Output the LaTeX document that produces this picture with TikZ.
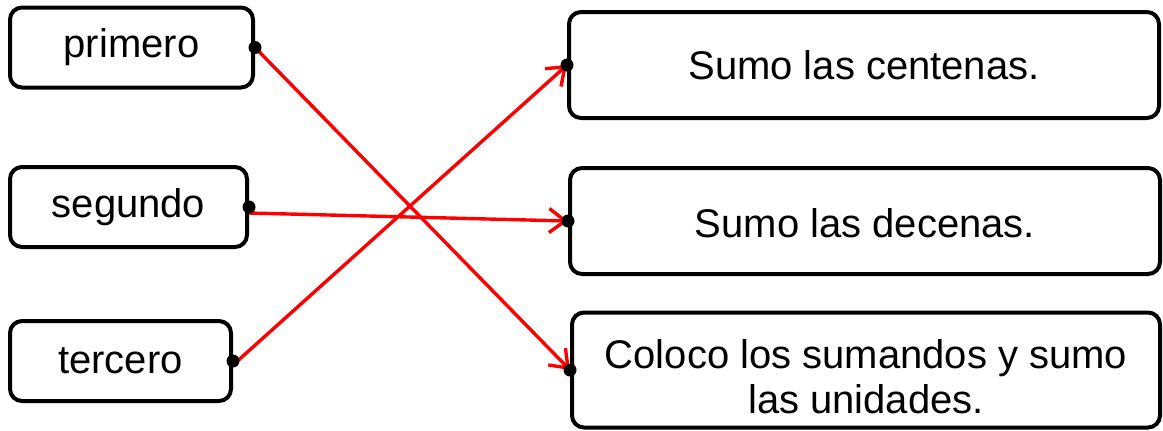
\documentclass[tikz,border=0pt]{standalone}
\usepackage{fontspec}
\setmainfont{Liberation Sans}
\usetikzlibrary{arrows.meta}

\newcommand{\lowered}[2]{\raisebox{-#1}[\height][\depth]{#2}}

\begin{document}
\begin{tikzpicture}[x=0.5pt,y=-0.5pt,>={Straight Barb[length=8pt,width=12pt]},
    box/.style={draw,line width=2pt,rounded corners=6pt,inner sep=0pt,align=center,font=\fontsize{20}{22.5}\selectfont},
    word node/.style={box,minimum height=40pt},
    step node/.style={box,minimum width=295pt,minimum height=53pt},
    dot/.style={circle,fill,inner sep=0pt,minimum size=6.5pt},
    link/.style={red,line width=1.7pt,->}]
        \useasboundingbox (0,0) rectangle (1163,430);

        % left column
        \node[word node,minimum width=121.5pt] (primero) at (131.5,47.5) {primero};
        \node[word node,minimum width=118.5pt] (segundo) at (128.5,207) {segundo};
        \node[word node,minimum width=110.5pt] (tercero) at (120.5,361) {tercero};

        % right column
        \node[step node] (centenas) at (864,65) {Sumo las centenas.};
        \node[step node] (decenas) at (865,221) {\lowered{1.2pt}{Sumo las decenas.}};
        \node[step node,minimum width=294pt,minimum height=57.5pt] (unidades) at (866,370)
            {\lowered{6pt}{\begin{tabular}{@{}c@{}}Coloco los sumandos y sumo\\las unidades.\end{tabular}}};

        \path[link]
            (primero.east) edge (unidades.west)
            ([yshift=-3pt]segundo.east) edge (decenas.west)
            ([yshift=-2pt]tercero.east) edge (centenas.west)
            ;

        \foreach \n in {primero,segundo,tercero}
            \node[dot] at (\n.east) {};
        \foreach \n in {centenas,decenas,unidades}
            \node[dot] at (\n.west) {};
\end{tikzpicture}
\end{document}
